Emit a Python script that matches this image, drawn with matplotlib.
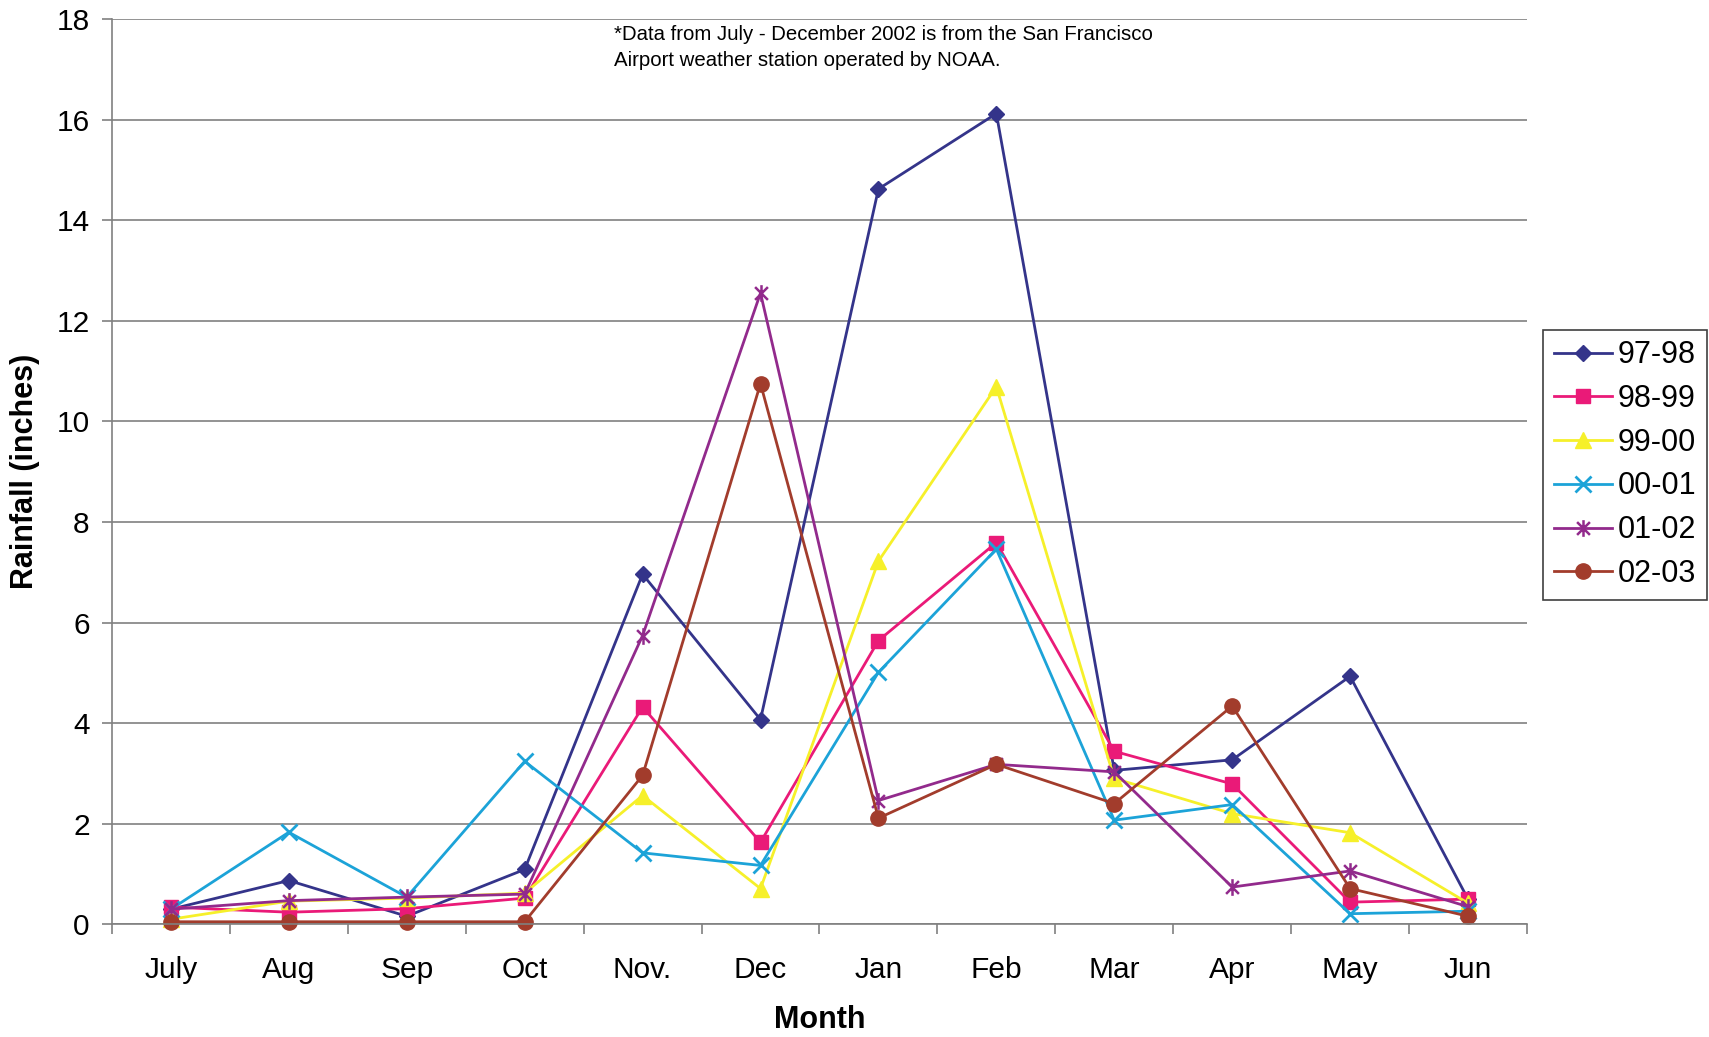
import matplotlib
matplotlib.use('Agg')
import matplotlib.pyplot as plt
from matplotlib.path import Path

plt.rcParams['font.family'] = ['Liberation Sans', 'DejaVu Sans']

months = ['July', 'Aug', 'Sep', 'Oct', 'Nov.', 'Dec', 'Jan', 'Feb', 'Mar', 'Apr', 'May', 'Jun']

# monthly rainfall, inches
r_97_98 = [0.30, 0.87, 0.16, 1.09, 6.96, 4.07, 14.62, 16.12, 3.06, 3.27, 4.93, 0.50]
r_98_99 = [0.34, 0.24, 0.31, 0.52, 4.32, 1.63, 5.64, 7.59, 3.44, 2.79, 0.44, 0.50]
r_99_00 = [0.10, 0.46, 0.52, 0.62, 2.56, 0.71, 7.22, 10.69, 2.90, 2.20, 1.82, 0.42]
r_00_01 = [0.30, 1.83, 0.54, 3.24, 1.42, 1.17, 5.01, 7.46, 2.07, 2.38, 0.21, 0.26]
r_01_02 = [0.30, 0.47, 0.54, 0.60, 5.74, 12.55, 2.46, 3.18, 3.03, 0.74, 1.06, 0.35]
r_02_03 = [0.05, 0.05, 0.05, 0.05, 2.96, 10.75, 2.11, 3.18, 2.40, 4.34, 0.71, 0.16]

seasons = ['97-98', '98-99', '99-00', '00-01', '01-02', '02-03']

# excel-style star: an x with a vertical bar through it
star = Path([(-1, -1), (1, 1), (-1, 1), (1, -1), (0, -1.3), (0, 1.3)],
            [Path.MOVETO, Path.LINETO, Path.MOVETO, Path.LINETO, Path.MOVETO, Path.LINETO])

styles = [
    dict(color='#34348a', marker='D', markersize=8.5),
    dict(color='#ea1a78', marker='s', markersize=10.5),
    dict(color='#f6f02a', marker='^', markersize=11),
    dict(color='#1ca3d8', marker='x', markersize=11, markeredgewidth=2),
    dict(color='#922a8c', marker=star, markersize=12, markeredgewidth=1.8),
    dict(color='#a23c2c', marker='o', markersize=11),
]

fig = plt.figure(figsize=(17.09, 10.37), dpi=100)
ax = fig.add_axes([0.0655, 0.1087, 0.828, 0.873])

x = list(range(len(months)))
for vals, name, st in zip([r_97_98, r_98_99, r_99_00, r_00_01, r_01_02, r_02_03], seasons, styles):
    ax.plot(x, vals, label=name, linewidth=2.0, clip_on=False, **st)

ax.set_xlim(-0.5, 11.5)
ax.set_ylim(0, 18)
ax.set_yticks(range(0, 19, 2))
ax.set_xticks(x)
ax.set_xticklabels(months)
ax.set_xticks([i - 0.5 for i in range(13)], minor=True)

ax.yaxis.grid(True, color='#808080', linewidth=1.2)
ax.set_axisbelow(True)
for s in ['top', 'right']:
    ax.spines[s].set_visible(False)
for s in ['left', 'bottom']:
    ax.spines[s].set_color('#808080')
    ax.spines[s].set_linewidth(1.2)

ax.tick_params(axis='x', which='major', length=0, pad=23, labelsize=21.5)
ax.tick_params(axis='x', which='minor', length=7, width=1.2, color='#808080', direction='out')
ax.tick_params(axis='y', length=7, width=1.2, color='#808080', direction='out', pad=9, labelsize=21.5)

ax.set_xlabel('Month', fontsize=22, fontweight='bold', labelpad=15)
ax.set_ylabel('Rainfall (inches)', fontsize=22, fontweight='bold', labelpad=12)

fig.text(614 / 1709, 1 - 25 / 1037,
         '*Data from July - December 2002 is from the San Francisco\nAirport weather station operated by NOAA.',
         fontsize=14.7, va='top', ha='left', linespacing=1.5)

leg = fig.legend(loc='center left', bbox_to_anchor=(0.903, 0.552), fontsize=22,
                 frameon=True, fancybox=False, edgecolor='#404040', framealpha=1,
                 handlelength=1.9, handletextpad=0.2, labelspacing=0.45,
                 borderpad=0.35, borderaxespad=0)
leg.get_frame().set_linewidth(1.2)

fig.savefig('out.png', dpi=100)
